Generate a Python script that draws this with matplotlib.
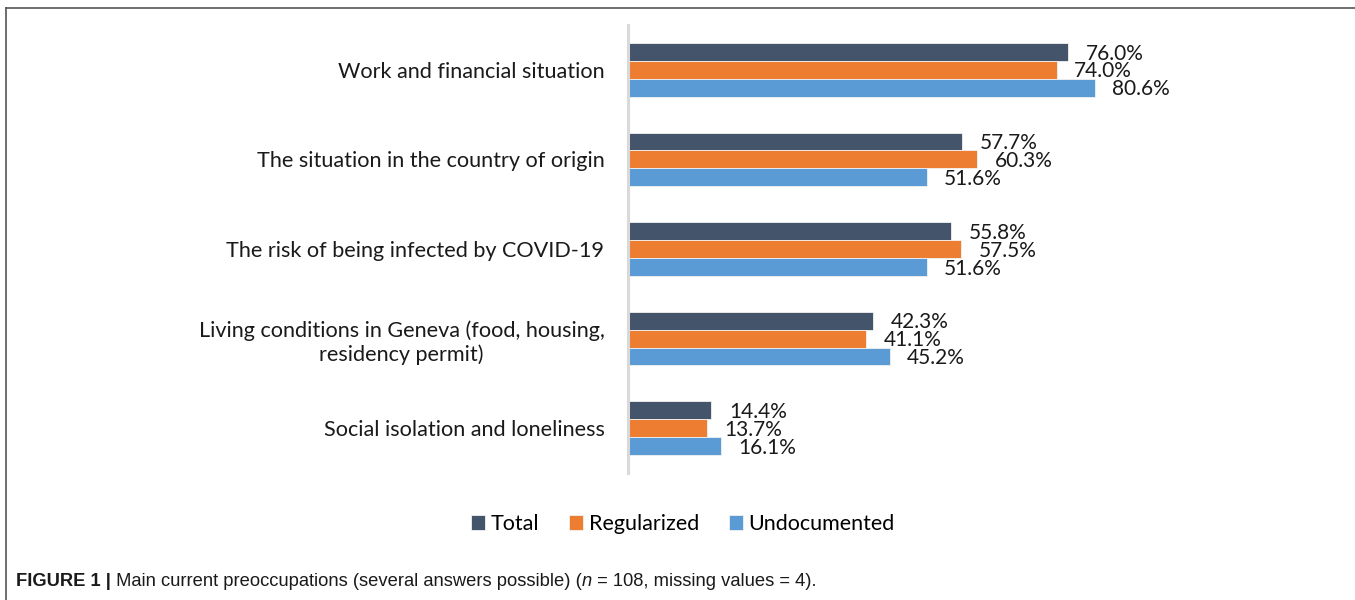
import matplotlib.pyplot as plt
import numpy as np
from matplotlib.lines import Line2D

categories = ["Work and financial situation",
              "The situation in the country of origin",
              "The risk of being infected by COVID-19",
              "Living conditions in Geneva (food, housing,\nresidency permit)",
              "Social isolation and loneliness"]
series_names = ["Total", "Regularized", "Undocumented"]
total = [76.0, 57.7, 55.8, 42.3, 14.4]
regularized = [74.0, 60.3, 57.5, 41.1, 13.7]
undocumented = [80.6, 51.6, 51.6, 45.2, 16.1]
colors = ["#44546A", "#ED7D31", "#5B9BD5"]

font = "Lato"
fig = plt.figure(figsize=(13.55, 6.0), dpi=100)
ax = fig.add_axes([628 / 1355, 127 / 600, 672 / 1355, 448 / 600])

y = np.arange(len(categories))
bar_h = 0.2
for i, (vals, name) in enumerate(zip([total, regularized, undocumented], series_names)):
    pos = y + (i - 1) * bar_h
    bars = ax.barh(pos, vals, height=bar_h, color=colors[i], edgecolor="#f2f2f2",
                   linewidth=0.6, label=name)
    for b, v in zip(bars, vals):
        ax.annotate("%.1f%%" % v, xy=(b.get_width(), b.get_y() + bar_h / 2),
                    xytext=(12.5, -1.2), textcoords="offset points", va="center",
                    ha="left", fontsize=15, family=font, color="#1a1a1a")

ax.set_ylim(len(categories) - 0.5, -0.5)
ax.set_xlim(0, 116)
ax.set_yticks(y)
ax.set_yticklabels(categories, fontsize=15.6, family=font, color="#1a1a1a")
for t in ax.get_yticklabels():
    t.set_multialignment("center")
ax.tick_params(axis="y", length=0, pad=17)
ax.set_xticks([])
for s in ["top", "right", "bottom"]:
    ax.spines[s].set_visible(False)
ax.spines["left"].set_color("#d9d9d9")
ax.spines["left"].set_linewidth(2.2)

fig.legend(loc="center", bbox_to_anchor=(683 / 1355, 1 - 524 / 600), ncol=3,
           frameon=False, handlelength=0.65, handleheight=0.65, handletextpad=0.25,
           columnspacing=1.4, prop={"family": font, "size": 15.5})

# frame around the figure panel
fig.add_artist(Line2D([6 / 1355, 1], [1 - 8 / 600, 1 - 8 / 600], color="#555555", lw=1.2))
fig.add_artist(Line2D([6 / 1355, 6 / 1355], [0, 1 - 8 / 600], color="#555555", lw=1.2))

# caption, built from pieces so "n" can be italic
cap = "Liberation Sans"
csize = 13.2
t1 = fig.text(16 / 1355, 1 - 582 / 600, "FIGURE 1 |", fontsize=csize, weight="bold",
              family=cap, va="center", color="#1a1a1a")
a2 = plt.annotate(" Main current preoccupations (several answers possible) (", xy=(1, 0.5),
                  xycoords=t1, va="center", ha="left", fontsize=csize, family=cap,
                  color="#1a1a1a", annotation_clip=False)
a3 = plt.annotate("n", xy=(1, 0.5), xycoords=a2, va="center", ha="left", fontsize=csize,
                  family=cap, style="italic", color="#1a1a1a", annotation_clip=False)
a4 = plt.annotate(" = 108, missing values = 4).", xy=(1, 0.5), xycoords=a3, va="center",
                  ha="left", fontsize=csize, family=cap, color="#1a1a1a", annotation_clip=False)

fig.savefig("out.png", dpi=100)
